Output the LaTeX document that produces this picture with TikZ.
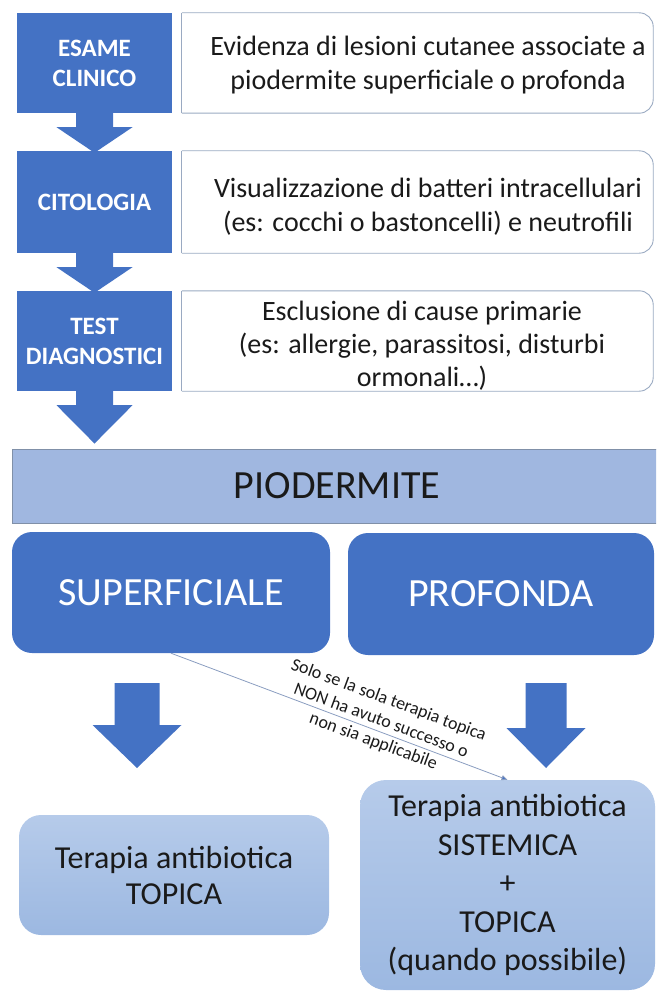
\documentclass[tikz,border=0pt]{standalone}
\usepackage{fontspec}
\setmainfont{Carlito}
\usetikzlibrary{calc,arrows.meta}
\definecolor{obl}{HTML}{4472C4}
\definecolor{wline}{HTML}{9AAAC2}
\definecolor{piofill}{HTML}{A0B7E0}
\definecolor{pioline}{HTML}{8090A8}
\definecolor{ltop}{HTML}{B6CBEA}
\definecolor{lbot}{HTML}{9CB8E1}
\definecolor{txt}{HTML}{1A1A1A}
\definecolor{conncol}{HTML}{8A9DC0}
\tikzset{
  bluebox/.style={fill=obl, text=white, font=\fontsize{25}{30}\selectfont\bfseries, align=center, minimum width=155pt, minimum height=100pt, inner sep=0pt},
  wbox/.style={minimum width=471pt, minimum height=100pt, inner sep=0pt},
  wborder/.style={draw=wline, line width=0.9pt},
  wtext/.style={font=\fontsize{28}{34}\selectfont, text=txt, align=center, inner sep=0pt},
  piobox/.style={fill=piofill, draw=pioline, line width=0.9pt, minimum width=650pt, minimum height=74pt, inner sep=0pt, font=\fontsize{40}{48}\selectfont, text=txt},
  typebox/.style={fill=obl, rounded corners=20pt, text=white, font=\fontsize{40}{48}\selectfont, inner sep=0pt},
  therbox/.style={top color=ltop, bottom color=lbot, rounded corners=22pt, inner sep=0pt, text=txt, align=center},
  conn/.style={draw=conncol, line width=0.8pt, -{Triangle[length=6pt,width=5pt,fill=obl]}},
  conntext/.style={font=\fontsize{18}{22}\selectfont, text=txt, align=center, inner sep=0pt}
}
\newcommand{\chevarrow}[2]{%
  \fill[obl] ($(#1.south)+(-18.5,-0.5)$) -- ($(#1.south)+(-18.5,14)$) -- ($(#1.south)+(-38,14)$)
    -- ($(#1.south |- #2.north)+(0,2)$) -- ($(#1.south)+(38,14)$) -- ($(#1.south)+(18.5,14)$)
    -- ($(#1.south)+(18.5,-0.5)$) -- cycle;}
\newcommand{\wframe}[1]{%
  \draw[wborder, rounded corners=14pt] (#1.north west) -- (#1.north east) -- (#1.south east) -- (#1.south west);
  \draw[wborder] (#1.south west) -- (#1.north west);}
\begin{document}
\begin{tikzpicture}[x=1pt,y=-1pt]
\useasboundingbox (0,0) rectangle (656,992);
\clip (0,0) rectangle (656,992);

% left column
\node[bluebox] (b1) at (94.5,63) {ESAME\\CLINICO};
\node[bluebox, minimum height=102pt] (b2) at (94.5,202) {CITOLOGIA};
\node[bluebox] (b3) at (94.5,341) {TEST\\DIAGNOSTICI};

% white boxes
\node[wbox] (w1) at (417.5,63) {};
\node[wbox, minimum height=102pt] (w2) at (417.5,202) {};
\node[wbox] (w3) at (417.5,341) {};
\wframe{w1}\wframe{w2}\wframe{w3}
\node[wtext] (t1) at (428,65) {Evidenza di lesioni cutanee associate a\\piodermite superficiale o profonda};
\node[wtext] (t2) at (428,207) {Visualizzazione di batteri intracellulari\\(es: cocchi o bastoncelli) e neutrofili};
\node[wtext, font=\fontsize{28}{33}\selectfont] (t3) at (422,346) {Esclusione di cause primarie\\(es: allergie, parassitosi, disturbi\\ormonali…)};

% piodermite
\node[piobox] (pio) at (337,486) {PIODERMITE};

% arrows
\chevarrow{b1}{b2}
\chevarrow{b2}{b3}
\fill[obl] ($(b3.south)+(-18.5,-0.5)$) -- ($(b3.south)+(-18.5,14)$) -- ($(b3.south)+(-38,14)$)
    -- ($(b3.south |- pio.north)+(0,-5)$) -- ($(b3.south)+(38,14)$) -- ($(b3.south)+(18.5,14)$)
    -- ($(b3.south)+(18.5,-0.5)$) -- cycle;

% type boxes
\node[typebox, minimum width=318pt, minimum height=121pt] (sup) at (171,592.5) {SUPERFICIALE};
\node[typebox, minimum width=306pt, minimum height=122pt] (prof) at (501,594) {PROFONDA};

% block arrows
\fill[obl] (114.5,683) -- (159.5,683) -- (159.5,725) -- (181.5,725) -- (137,768) -- (92.5,725) -- (114.5,725) -- cycle;
\fill[obl] (525.5,683) -- (566.5,683) -- (566.5,728) -- (585.5,728) -- (546,768) -- (506.5,728) -- (525.5,728) -- cycle;

% therapy boxes
\node[therbox, minimum width=310pt, minimum height=120pt, font=\fontsize{32}{36}\selectfont] (lb) at (174,875) {Terapia antibiotica\\TOPICA};
\node[therbox, minimum width=295pt, minimum height=210pt, font=\fontsize{32}{38.5}\selectfont, rounded corners=26pt] (rb) at (507.5,885) {Terapia antibiotica\\SISTEMICA\\+\\TOPICA\\(quando possibile)};

% connector
\draw[conn] (sup.south) -- (rb.north);
\node[conntext, rotate=-20.3] (cl) at (381,721) {Solo se la sola terapia topica\\NON ha avuto successo o\\non sia applicabile};
\end{tikzpicture}
\end{document}
